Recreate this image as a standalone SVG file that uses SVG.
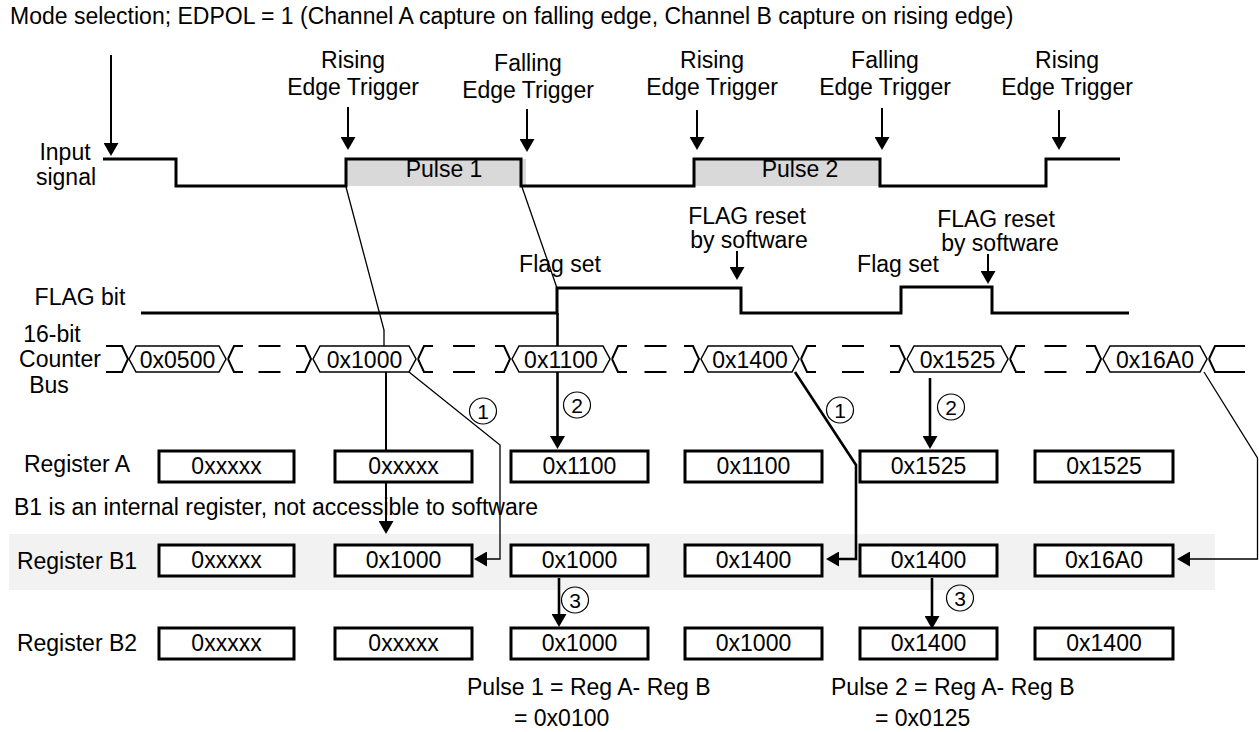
<svg xmlns="http://www.w3.org/2000/svg" width="1259" height="732" viewBox="0 0 1259 732">
<style>
text{font-family:"Liberation Sans",Arial,sans-serif;font-size:23px;fill:#000}
.m{text-anchor:middle}
.sig{fill:none;stroke:#000;stroke-width:3}
.thin{fill:none;stroke:#000;stroke-width:1.3}
.med{fill:none;stroke:#000;stroke-width:2}
.thick{fill:none;stroke:#000;stroke-width:2.6}
.hex{fill:#fff;stroke:#000;stroke-width:1.5}
.bus{fill:none;stroke:#000;stroke-width:2}
.box{fill:#fff;stroke:#000;stroke-width:3}
.num ellipse{fill:none;stroke:#000;stroke-width:1.2}
.num text{font-size:21px;text-anchor:middle}
</style>
<defs>
<marker id="ah" viewBox="0 0 13 15" refX="2" refY="7.5" markerWidth="13" markerHeight="15" orient="auto" markerUnits="userSpaceOnUse">
<path d="M0,0 L13,7.5 L0,15 z" fill="#000"/>
</marker>
</defs>
<rect id="b1band" x="9" y="534" width="1206" height="56" fill="#f2f2f2"/>
<text x="10" y="24">Mode selection; EDPOL = 1 (Channel A capture on falling edge, Channel B capture on rising edge)</text>
<g id="input-signal">
<rect x="346" y="159" width="180" height="27" fill="#d9d9d9"/>
<rect x="694" y="159" width="186" height="27" fill="#d9d9d9"/>
<path class="sig" d="M103,159 H176 V186 H346 V159 H521 V186 H694 V159 H880 V186 H1046 V159 H1120"/>
<text class="m" x="65" y="160">Input</text>
<text class="m" x="66" y="185">signal</text>
<text class="m" x="444" y="177">Pulse 1</text>
<text class="m" x="800" y="177">Pulse 2</text>
</g>
<g id="triggers">
<text class="m" x="353" y="68">Rising</text><text class="m" x="353" y="95">Edge Trigger</text>
<text class="m" x="528" y="71">Falling</text><text class="m" x="528" y="98">Edge Trigger</text>
<text class="m" x="712" y="68">Rising</text><text class="m" x="712" y="95">Edge Trigger</text>
<text class="m" x="885" y="68">Falling</text><text class="m" x="885" y="95">Edge Trigger</text>
<text class="m" x="1067" y="68">Rising</text><text class="m" x="1067" y="95">Edge Trigger</text>
</g>
<g id="flag-bit">
<path class="sig" d="M141,313 H557 V288 H741 V313 H901 V287 H992 V313 H1129"/>
<text class="m" x="80" y="305">FLAG bit</text>
<text class="m" x="560" y="272">Flag set</text>
<text class="m" x="898" y="272">Flag set</text>
<text class="m" x="747" y="224">FLAG reset</text><text class="m" x="749" y="248">by software</text>
<text class="m" x="996" y="227">FLAG reset</text><text class="m" x="1000" y="251">by software</text>
</g>
<g id="connectors">
<path class="med" d="M111,55 V145" marker-end="url(#ah)"/>
<path class="med" d="M348,107 V139" marker-end="url(#ah)"/>
<path class="med" d="M527,109 V141" marker-end="url(#ah)"/>
<path class="med" d="M697,110 V139" marker-end="url(#ah)"/>
<path class="med" d="M882,108 V139" marker-end="url(#ah)"/>
<path class="med" d="M1059,110 V139" marker-end="url(#ah)"/>
<path class="med" d="M737,251 V269" marker-end="url(#ah)"/>
<path class="med" d="M988,254 V273" marker-end="url(#ah)"/>
<path class="thin" d="M346,187 L384,330 V346"/>
<path class="thin" d="M522,187 L557,288"/>
<path class="med" d="M386,372 V523" marker-end="url(#ah)"/>
<path class="thin" d="M409,372 L500,445 V559 H485" marker-end="url(#ah)"/>
<path class="thick" d="M557.5,313 V438" marker-end="url(#ah)"/>
<path class="thick" d="M559,578 V616" marker-end="url(#ah)"/>
<path class="thick" d="M795,372 L856,465 V559 H837" marker-end="url(#ah)"/>
<path class="thick" d="M930,378 V438" marker-end="url(#ah)"/>
<path class="thick" d="M932,578 V618" marker-end="url(#ah)"/>
<path class="thin" d="M1204,372 L1257.5,458 V559 H1188" marker-end="url(#ah)"/>
</g>
<g id="counter-bus">
<text class="m" x="52" y="342">16-bit</text>
<text class="m" x="60" y="367">Counter</text>
<text class="m" x="49" y="393">Bus</text>
<path class="bus" d="M106,346 H122 L128,359 L122,372 H106"/>
<path class="bus" d="M228,359 L234,346 H243 M228,359 L234,372 H243 M258.5,346 H280.5 M258.5,372 H280.5 M296,346 H305 L311,359 L305,372 H296"/>
<path class="bus" d="M418,359 L424,346 H433 M418,359 L424,372 H433 M453,346 H475 M453,372 H475 M495,346 H504 L510,359 L504,372 H495"/>
<path class="bus" d="M612,359 L618,346 H627 M612,359 L618,372 H627 M644.5,346 H666.5 M644.5,372 H666.5 M684,346 H693 L699,359 L693,372 H684"/>
<path class="bus" d="M801,359 L807,346 H816 M801,359 L807,372 H816 M842,346 H864 M842,372 H864 M890,346 H899 L905,359 L899,372 H890"/>
<path class="bus" d="M1010,359 L1016,346 H1025 M1010,359 L1016,372 H1025 M1044.5,346 H1066.5 M1044.5,372 H1066.5 M1086,346 H1095 L1101,359 L1095,372 H1086"/>
<path class="bus" d="M1209,359 L1215,346 H1245 M1209,359 L1215,372 H1245"/>
<g id="hex1"><polygon class="hex" points="129,359 136,346 219,346 226,359 219,372 136,372"/><text class="m" x="177.5" y="368">0x0500</text></g>
<g id="hex2"><polygon class="hex" points="313,359 320,346 409,346 416,359 409,372 320,372"/><text class="m" x="364.5" y="368">0x1000</text></g>
<g id="hex3"><polygon class="hex" points="512,359 519,346 603,346 610,359 603,372 519,372"/><text class="m" x="561" y="368">0x1100</text></g>
<g id="hex4"><polygon class="hex" points="701,359 708,346 792,346 799,359 792,372 708,372"/><text class="m" x="750" y="368">0x1400</text></g>
<g id="hex5"><polygon class="hex" points="907,359 914,346 1001,346 1008,359 1001,372 914,372"/><text class="m" x="957.5" y="368">0x1525</text></g>
<g id="hex6"><polygon class="hex" points="1103,359 1110,346 1200,346 1207,359 1200,372 1110,372"/><text class="m" x="1155" y="368">0x16A0</text></g>
</g>
<g id="register-a">
<text class="m" x="77" y="472">Register A</text>
<rect class="box" x="159" y="451" width="135" height="31"/><text class="m" x="226.5" y="474">0xxxxx</text>
<rect class="box" x="335" y="451" width="137" height="31"/><text class="m" x="403.5" y="474">0xxxxx</text>
<rect class="box" x="511" y="451" width="137" height="31"/><text class="m" x="579.5" y="474">0x1100</text>
<rect class="box" x="685" y="451" width="137" height="31"/><text class="m" x="753.5" y="474">0x1100</text>
<rect class="box" x="860" y="451" width="137" height="31"/><text class="m" x="928.5" y="474">0x1525</text>
<rect class="box" x="1035" y="451" width="138" height="31"/><text class="m" x="1104" y="474">0x1525</text>
</g>
<text x="14" y="515">B1 is an internal register, not accessible to software</text>
<g id="register-b1">
<text class="m" x="77" y="569">Register B1</text>
<rect class="box" x="159" y="545" width="135" height="31"/><text class="m" x="226.5" y="568">0xxxxx</text>
<rect class="box" x="335" y="545" width="137" height="31"/><text class="m" x="403.5" y="568">0x1000</text>
<rect class="box" x="511" y="545" width="137" height="31"/><text class="m" x="579.5" y="568">0x1000</text>
<rect class="box" x="685" y="545" width="137" height="31"/><text class="m" x="753.5" y="568">0x1400</text>
<rect class="box" x="860" y="545" width="137" height="31"/><text class="m" x="928.5" y="568">0x1400</text>
<rect class="box" x="1035" y="545" width="138" height="31"/><text class="m" x="1104" y="568">0x16A0</text>
</g>
<g id="register-b2">
<text class="m" x="77" y="651">Register B2</text>
<rect class="box" x="159" y="628" width="135" height="31"/><text class="m" x="226.5" y="651">0xxxxx</text>
<rect class="box" x="335" y="628" width="137" height="31"/><text class="m" x="403.5" y="651">0xxxxx</text>
<rect class="box" x="511" y="628" width="137" height="31"/><text class="m" x="579.5" y="651">0x1000</text>
<rect class="box" x="685" y="628" width="137" height="31"/><text class="m" x="753.5" y="651">0x1000</text>
<rect class="box" x="860" y="628" width="137" height="31"/><text class="m" x="928.5" y="651">0x1400</text>
<rect class="box" x="1035" y="628" width="138" height="31"/><text class="m" x="1104" y="651">0x1400</text>
</g>
<g id="steps">
<g class="num"><ellipse cx="483" cy="411" rx="13.5" ry="13"/><text x="483" y="419">1</text></g>
<g class="num"><ellipse cx="577" cy="405" rx="13.5" ry="13"/><text x="577" y="413">2</text></g>
<g class="num"><ellipse cx="575" cy="600" rx="13.5" ry="13"/><text x="575" y="608">3</text></g>
<g class="num"><ellipse cx="840" cy="410" rx="13.5" ry="13"/><text x="840" y="418">1</text></g>
<g class="num"><ellipse cx="951" cy="407" rx="13.5" ry="13"/><text x="951" y="415">2</text></g>
<g class="num"><ellipse cx="960" cy="598" rx="13.5" ry="13"/><text x="960" y="606">3</text></g>
</g>
<g id="results">
<text x="467" y="695">Pulse 1 = Reg A- Reg B</text>
<text x="514" y="726">= 0x0100</text>
<text x="831" y="695">Pulse 2 = Reg A- Reg B</text>
<text x="875" y="726">= 0x0125</text>
</g>
</svg>
